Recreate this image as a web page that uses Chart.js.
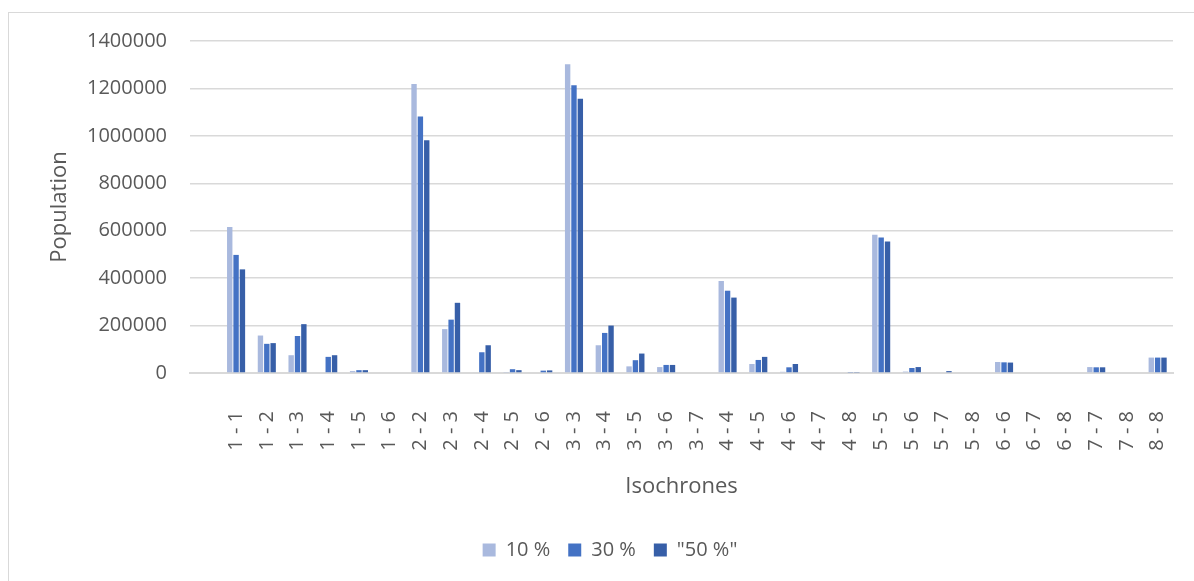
<!DOCTYPE html>
<html lang="en">
<head>
  <meta charset="UTF-8">
  <title>Population by isochrones</title>
  <script src="https://cdn.jsdelivr.net/npm/chart.js"></script>
  <style>
    body { margin: 0; background: #fff; overflow: hidden; }
    .frame { position: absolute; left: 8px; top: 12px; width: 1400px; height: 800px; border: 1px solid #d9d9d9; }
    .wrap { position: absolute; left: 0; top: 0; width: 1194px; height: 581px; }
  </style>
</head>
<body>
<div class="frame"></div>
<div class="wrap"><canvas id="pop"></canvas></div>
<script>
const labels = ['', '1 - 1', '1 - 2', '1 - 3', '1 - 4', '1 - 5', '1 - 6', '2 - 2', '2 - 3', '2 - 4', '2 - 5', '2 - 6',
  '3 - 3', '3 - 4', '3 - 5', '3 - 6', '3 - 7', '4 - 4', '4 - 5', '4 - 6', '4 - 7', '4 - 8',
  '5 - 5', '5 - 6', '5 - 7', '5 - 8', '6 - 6', '6 - 7', '6 - 8', '7 - 7', '7 - 8', '8 - 8'];

const pct10 = [null, 616000, 158000, 75000, 0, 8000, 0, 1219000, 185000, 3000, 2000, 0,
  1302000, 117000, 28000, 25000, 0, 388000, 38000, 5000, 0, 0,
  583000, 6000, 0, 0, 46500, 0, 0, 25000, 0, 65000];
const pct30 = [null, 498000, 123000, 156000, 68000, 12000, 0, 1082000, 225000, 87500, 16000, 10000,
  1213000, 169000, 54000, 34000, 0, 347000, 55000, 24000, 0, 2000,
  571000, 21000, 0, 0, 45000, 0, 0, 24000, 0, 65000];
const pct50 = [null, 437000, 126000, 206000, 75000, 12000, 0, 981000, 296000, 117000, 12000, 11000,
  1157000, 200000, 82000, 34000, 0, 318000, 68000, 38000, 0, 2000,
  554000, 25000, 8000, 0, 44000, 0, 0, 24000, 0, 65000];

const font = 'Open Sans';
const grey = '#595959';

new Chart(document.getElementById('pop'), {
  type: 'bar',
  data: {
    labels: labels,
    datasets: [
      { label: '10 %', data: pct10, backgroundColor: '#a9b9de' },
      { label: '30 %', data: pct30, backgroundColor: '#4472c4' },
      { label: '"50 %"', data: pct50, backgroundColor: '#375fa8' }
    ]
  },
  options: {
    responsive: true,
    maintainAspectRatio: false,
    animation: false,
    categoryPercentage: 0.62,
    barPercentage: 0.85,
    layout: { padding: { left: 47, right: 21, top: 41, bottom: 11 } },
    plugins: {
      tooltip: { enabled: false },
      legend: {
        position: 'bottom',
        labels: {
          boxWidth: 13, boxHeight: 13, padding: 18,
          color: grey, font: { family: font, size: 20 }
        }
      }
    },
    scales: {
      x: {
        grid: { display: false },
        border: { color: '#d9d9d9', width: 2 },
        ticks: {
          autoSkip: false, maxRotation: 90, minRotation: 90, padding: 30,
          color: grey, font: { family: font, size: 20 }
        },
        title: {
          display: true, text: 'Isochrones', color: grey,
          font: { family: font, size: 22 }, padding: { top: 0, bottom: 22 }
        },
        afterFit: function (s) {
          s.height = 149;
          s.paddingLeft = 0;
          s.paddingRight = 0;
        }
      },
      y: {
        min: 0, max: 1400000,
        grid: { color: '#d9d9d9', lineWidth: 1.5, drawTicks: false },
        border: { display: false },
        ticks: {
          stepSize: 200000, padding: 23, color: grey,
          font: { family: font, size: 20 },
          callback: function (v) { return String(v); }
        },
        title: {
          display: true, text: 'Population', color: grey,
          font: { family: font, size: 22 }, padding: { top: 0, bottom: 0 }
        },
        afterFit: function (s) { s.width = 143; }
      }
    }
  }
});
</script>
</body>
</html>
